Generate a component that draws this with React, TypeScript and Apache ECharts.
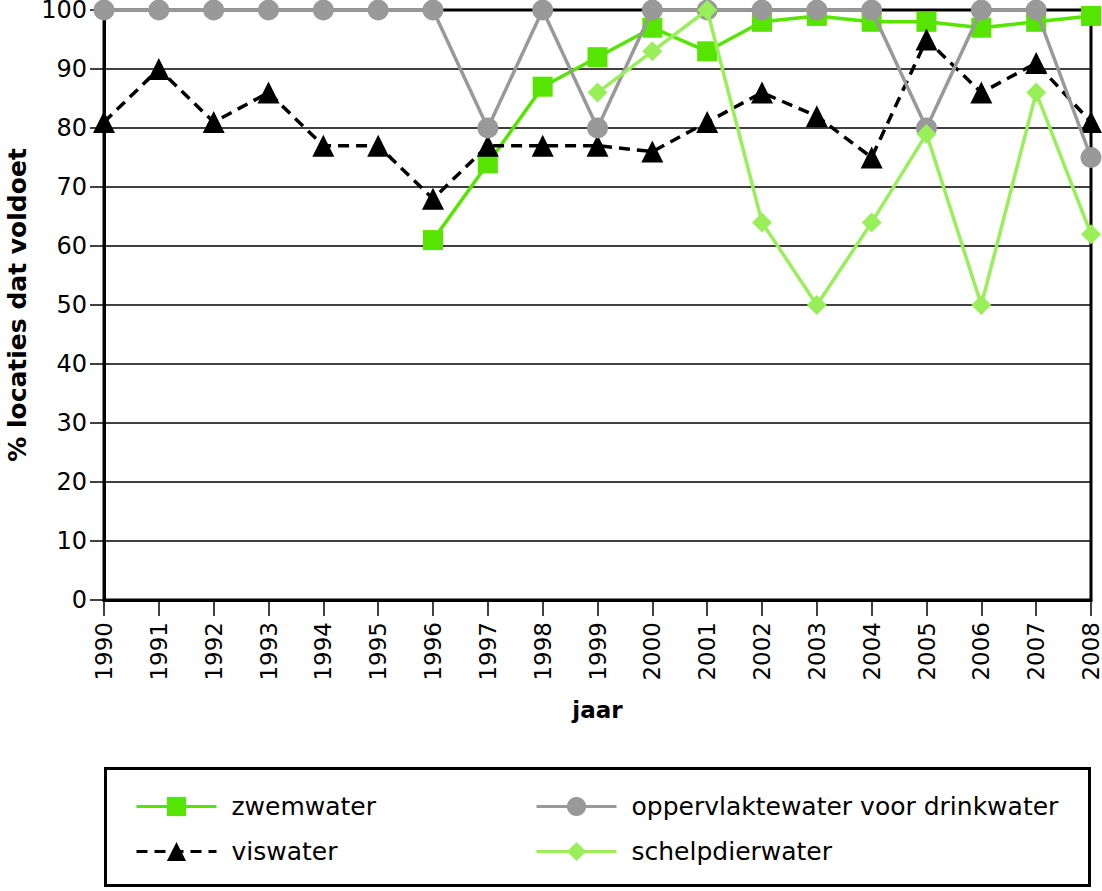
import React, { useEffect, useRef } from "react";
import * as echarts from "echarts";

const years = ["1990","1991","1992","1993","1994","1995","1996","1997","1998","1999","2000","2001","2002","2003","2004","2005","2006","2007","2008"];
const yTicks = [0, 10, 20, 30, 40, 50, 60, 70, 80, 90, 100];
const zwemwater = [null, null, null, null, null, null, 61, 74, 87, 92, 97, 93, 98, 99, 98, 98, 97, 98, 99];
const viswater = [81, 90, 81, 86, 77, 77, 68, 77, 77, 77, 76, 81, 86, 82, 75, 95, 86, 91, 81];
const oppervlaktewater = [100, 100, 100, 100, 100, 100, 100, 80, 100, 80, 100, 100, 100, 100, 100, 80, 100, 100, 75];
const schelpdierwater = [null, null, null, null, null, null, null, null, null, 86, 93, 100, 64, 50, 64, 79, 50, 86, 62];

const names = {
  zwem: "zwemwater",
  vis: "viswater",
  opp: "oppervlaktewater voor drinkwater",
  schelp: "schelpdierwater",
};

const FONT = "DejaVu Sans";

export default function App() {
  const ref = useRef<HTMLDivElement>(null);
  useEffect(() => {
    if (!ref.current) return;
    const chart = echarts.init(ref.current, null, { renderer: "svg" });
    const legendCommon = {
      orient: "vertical",
      padding: 0,
      itemWidth: 80,
      itemHeight: 24,
      itemGap: 20,
      lineStyle: { width: 3 },
      textStyle: { fontFamily: FONT, fontSize: 25, color: "#000", padding: [0, 0, 0, 10] },
      selectedMode: false,
    };
    chart.setOption({
      animation: false,
      backgroundColor: "#fff",
      grid: {
        left: 104,
        right: 11,
        top: 10,
        bottom: 291,
        show: true,
        borderColor: "#000",
        borderWidth: 3,
        outerBoundsMode: "none",
        containLabel: false,
      },
      legend: [
        { ...legendCommon, left: 135, top: 794, data: [names.zwem, names.vis] },
        { ...legendCommon, left: 535, top: 794, data: [names.opp, names.schelp] },
      ],
      xAxis: {
        type: "category",
        data: years,
        boundaryGap: false,
        axisLine: { lineStyle: { color: "#000", width: 3 } },
        axisTick: { show: true, length: 16, lineStyle: { color: "#000", width: 1.5 } },
        axisLabel: {
          rotate: 90,
          margin: 22,
          fontFamily: FONT,
          fontSize: 23,
          lineHeight: 20,
          color: "#000",
          interval: 0,
        },
        name: "jaar",
        nameLocation: "middle",
        nameGap: 98,
        nameTextStyle: { fontFamily: FONT, fontSize: 23, fontWeight: "bold", color: "#000" },
      },
      yAxis: {
        type: "value",
        min: yTicks[0],
        max: yTicks[yTicks.length - 1],
        interval: 10,
        axisLine: { show: true, lineStyle: { color: "#000", width: 3 } },
        axisTick: { show: true, length: 14, lineStyle: { color: "#000", width: 1.5 } },
        axisLabel: { margin: 17, fontFamily: FONT, fontSize: 24, lineHeight: 20, color: "#000" },
        splitLine: { show: true, lineStyle: { color: "#000", width: 1.5 } },
        name: "% locaties dat voldoet",
        nameLocation: "middle",
        nameGap: 74,
        nameTextStyle: { fontFamily: FONT, fontSize: 25, lineHeight: 26, fontWeight: "bold", color: "#000" },
      },
      graphic: [
        {
          type: "rect",
          shape: { x: 105.5, y: 768.5, width: 984, height: 117 },
          style: { fill: "none", stroke: "#000", lineWidth: 3 },
          silent: true,
        },
      ],
      series: [
        {
          name: names.zwem,
          type: "line",
          data: zwemwater,
          symbol: "rect",
          symbolSize: 20,
          clip: false,
          color: "#55e500",
          lineStyle: { color: "#55e500", width: 3.5 },
          itemStyle: { color: "#55e500" },
          z: 2,
        },
        {
          name: names.vis,
          type: "line",
          data: viswater,
          symbol: "triangle",
          symbolSize: 22,
          clip: false,
          color: "#000",
          lineStyle: { color: "#000", width: 3.5, type: [11, 7] },
          itemStyle: { color: "#000" },
          z: 3,
        },
        {
          name: names.opp,
          type: "line",
          data: oppervlaktewater,
          symbol: "circle",
          symbolSize: 21,
          clip: false,
          color: "#999999",
          lineStyle: { color: "#999999", width: 3.5 },
          itemStyle: { color: "#999999" },
          z: 4,
        },
        {
          name: names.schelp,
          type: "line",
          data: schelpdierwater,
          symbol: "diamond",
          symbolSize: 20,
          clip: false,
          color: "#99ef5a",
          lineStyle: { color: "#99ef5a", width: 3.5 },
          itemStyle: { color: "#99ef5a" },
          z: 5,
        },
      ],
    });
    return () => chart.dispose();
  }, []);
  return <div ref={ref} style={{ width: 1102, height: 891, position: "absolute", left: 0, top: 0 }} />;
}
